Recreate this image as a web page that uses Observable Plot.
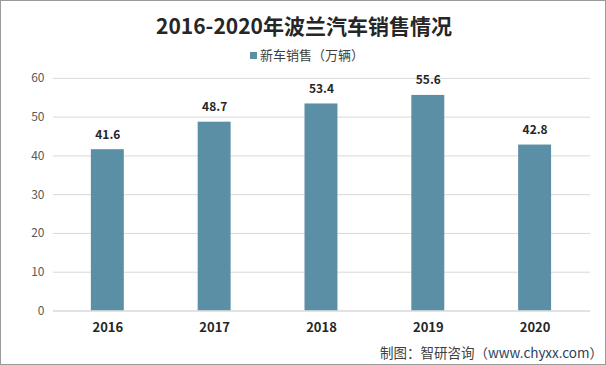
<!DOCTYPE html>
<html>
<head>
<meta charset="utf-8">
<script src="https://cdn.jsdelivr.net/npm/d3@7"></script>
<script src="https://cdn.jsdelivr.net/npm/@observablehq/plot@0.6"></script>
<style>
  html, body { margin: 0; padding: 0; background: #fff; }
  #frame {
    position: relative; width: 606px; height: 365px; box-sizing: border-box;
    border: 1px solid #9a9a9a; background: #fff; overflow: hidden;
    font-family: "Noto Sans CJK SC", "Noto Sans", sans-serif;
  }
  #chart { position: absolute; left: -1px; top: -1px; }
  #title {
    position: absolute; left: 0; width: 606px; top: 9px; text-align: center;
    font-size: 21px; font-weight: bold; color: #262626; line-height: 30px;
  }
  #legend {
    position: absolute; left: 249px; top: 45px; font-size: 13px; color: #404040;
    line-height: 18px; display: flex; align-items: center;
  }
  #legend .sw { width: 7px; height: 7px; background: #5b8fa6; margin-right: 3px; }
  #caption {
    position: absolute; right: 2px; top: 340px; font-size: 13.5px; color: #404040; line-height: 22px;
  }
  #caption .url { color: #2e3f5c; }
</style>
</head>
<body>
<div id="frame">
  <div id="chart"></div>
  <div id="title">2016-2020年波兰汽车销售情况</div>
  <div id="legend"><span class="sw"></span><span id="legendText"></span></div>
  <div id="caption">制图：智研咨询（<span class="url">www.chyxx.com</span>）</div>
</div>
<script>
const years = ["2016", "2017", "2018", "2019", "2020"];
const sales = [41.6, 48.7, 53.4, 55.6, 42.8];
const seriesName = "新车销售（万辆）";
const yTicks = [0, 10, 20, 30, 40, 50, 60];

document.getElementById("legendText").textContent = seriesName;

const data = years.map((y, i) => ({year: y, value: sales[i]}));

const chart = Plot.plot({
  width: 606,
  height: 365,
  marginTop: 78,
  marginBottom: 54,
  marginLeft: 53,
  marginRight: 15,
  style: {fontFamily: "'Noto Sans CJK SC', 'Noto Sans', sans-serif", background: "transparent"},
  x: {domain: years, paddingInner: 0.69, paddingOuter: 0.345, label: null},
  y: {domain: [0, 60], label: null},
  marks: [
    Plot.gridY(yTicks, {stroke: "#d9d9d9", strokeOpacity: 1}),
    Plot.axisY(yTicks, {tickSize: 0, tickPadding: 9, fontSize: 12, fill: "#595959", label: null}),
    Plot.axisX({tickSize: 0, tickPadding: 12, fontSize: 13, fontWeight: "bold", fill: "#262626", label: null}),
    Plot.barY(data, {x: "year", y: "value", fill: "#5b8fa6"}),
    Plot.ruleY([0], {stroke: "#d9d9d9"}),
    Plot.text(data, {x: "year", y: "value", text: d => d.value.toFixed(1), dy: -15, fontSize: 12, fontWeight: "bold", fill: "#262626"})
  ]
});
document.getElementById("chart").appendChild(chart);
</script>
</body>
</html>
